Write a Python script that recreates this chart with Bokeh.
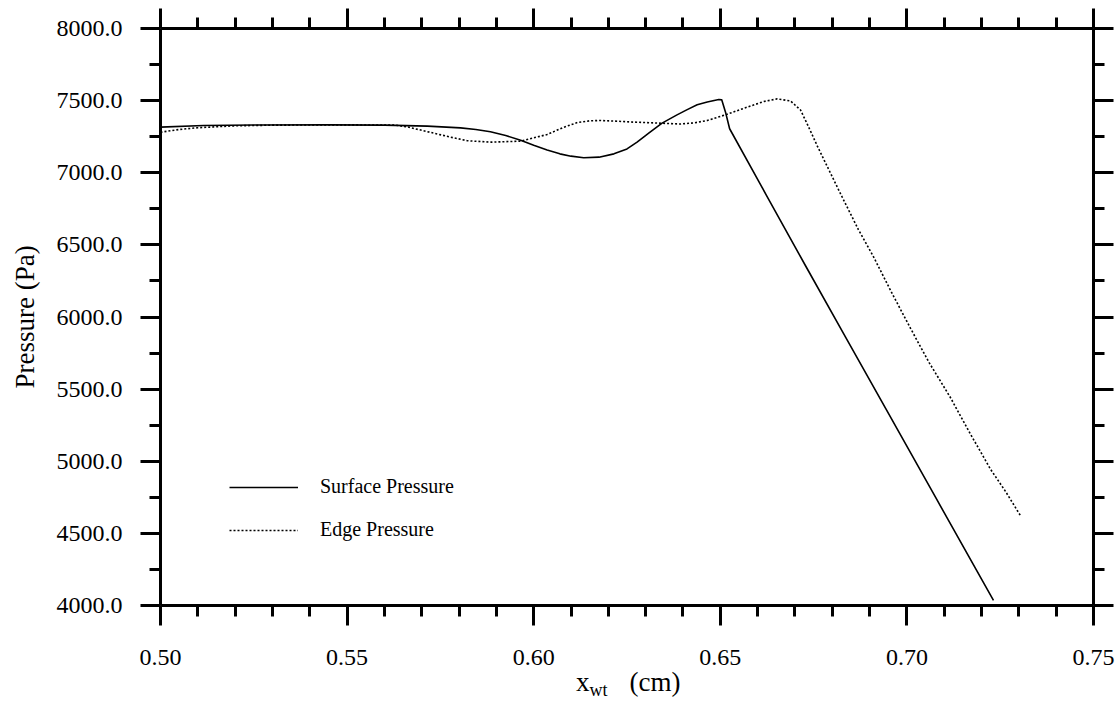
from bokeh.plotting import figure
from bokeh.models import (LinearAxis, FixedTicker, Legend, LegendItem, Div,
                          CustomJSTickFormatter, NumeralTickFormatter,
                          ColumnDataSource)
from bokeh.layouts import column
from bokeh.embed import file_html
from bokeh.resources import INLINE

# ---- data ----
surface_x = [0.5000, 0.5116, 0.5250, 0.5447, 0.5600, 0.5715, 0.5804, 0.5845,
             0.5884, 0.5925, 0.5965, 0.6000, 0.6036, 0.6070, 0.6100, 0.6134,
             0.6175, 0.6215, 0.6250, 0.6277, 0.6310, 0.6344, 0.6384, 0.6410,
             0.6438, 0.6465, 0.6496, 0.6504, 0.6514, 0.6525, 0.6624, 0.6728,
             0.6836, 0.6943, 0.7077, 0.7232]
surface_p = [7316, 7328, 7331, 7332, 7330, 7323, 7311, 7300,
             7284, 7258, 7225, 7190, 7157, 7131, 7115, 7104,
             7108, 7131, 7165, 7212, 7278, 7344, 7401, 7436,
             7471, 7490, 7508, 7505, 7420, 7305, 6842, 6357,
             5858, 5366, 4749, 4035]

edge_x = [0.5000, 0.5050, 0.5100, 0.5196, 0.5300, 0.5500, 0.5630, 0.5661,
          0.5715, 0.5777, 0.5822, 0.5884, 0.5965, 0.6036, 0.6080, 0.6117,
          0.6150, 0.6179, 0.6220, 0.6259, 0.6300, 0.6344, 0.6393, 0.6430,
          0.6465, 0.6518, 0.6572, 0.6617, 0.6652, 0.6688, 0.6715, 0.6738,
          0.6760, 0.6822, 0.6870, 0.6911, 0.6960, 0.7010, 0.7060, 0.7117,
          0.7170, 0.7224, 0.7265, 0.7304]
edge_p = [7281, 7300, 7312, 7325, 7330, 7332, 7330, 7318,
          7285, 7247, 7222, 7212, 7219, 7265, 7315, 7348,
          7360, 7362, 7358, 7352, 7348, 7343, 7338, 7346,
          7362, 7405, 7455, 7494, 7512, 7498, 7435, 7310,
          7185, 6855, 6606, 6415, 6165, 5920, 5682, 5440,
          5190, 4945, 4788, 4624]

series_labels = ["Surface Pressure", "Edge Pressure"]
x_title_main, x_title_sub, x_title_unit = "x", "wt", "(cm)"
y_title = "Pressure (Pa)"

x_major = [0.50, 0.55, 0.60, 0.65, 0.70, 0.75]
x_minor = [0.51, 0.52, 0.53, 0.54, 0.56, 0.57, 0.58, 0.59, 0.61, 0.62, 0.63,
           0.64, 0.66, 0.67, 0.68, 0.69, 0.71, 0.72, 0.73, 0.74]
y_major = [4000, 4500, 5000, 5500, 6000, 6500, 7000, 7500, 8000]
y_minor = [4250, 4750, 5250, 5750, 6250, 6750, 7250, 7750]

FONT = "Liberation Serif"

p = figure(frame_width=933, frame_height=577, x_range=(0.5, 0.75),
           y_range=(4000, 8000), output_backend="svg", toolbar_location=None,
           min_border_left=160, min_border_top=28, min_border_right=24,
           min_border_bottom=64)
p.outline_line_color = None
p.xgrid.visible = False
p.ygrid.visible = False
p.background_fill_color = "white"
p.border_fill_color = "white"

xt = FixedTicker(ticks=x_major, minor_ticks=x_minor)
yt = FixedTicker(ticks=y_major, minor_ticks=y_minor)

top = LinearAxis(ticker=xt, formatter=CustomJSTickFormatter(code="return ''"))
right = LinearAxis(ticker=yt, formatter=CustomJSTickFormatter(code="return ''"))
p.add_layout(top, "above")
p.add_layout(right, "right")

p.below[0].ticker = xt
p.left[0].ticker = yt
p.below[0].formatter = NumeralTickFormatter(format="0.00")
p.left[0].formatter = NumeralTickFormatter(format="0.0")

for ax in [p.below[0], p.left[0], top, right]:
    ax.axis_line_width = 3
    ax.axis_line_color = "black"
    ax.major_tick_line_width = 3
    ax.minor_tick_line_width = 3
    ax.major_tick_out = 20
    ax.major_tick_in = 0
    ax.minor_tick_out = 11
    ax.minor_tick_in = 0
    ax.major_label_text_font = FONT
    ax.major_label_text_font_size = "24px"
    ax.major_label_text_color = "black"

p.below[0].major_label_standoff = 24
p.left[0].major_label_standoff = 18
for ax in [top, right]:
    ax.major_label_text_font_size = "0px"
    ax.major_label_standoff = 0

p.left[0].axis_label = y_title
p.left[0].axis_label_text_font = FONT
p.left[0].axis_label_text_font_size = "27px"
p.left[0].axis_label_text_font_style = "normal"
p.left[0].axis_label_text_color = "black"
p.left[0].axis_label_standoff = 14

src_s = ColumnDataSource(dict(x=surface_x, y=surface_p))
src_e = ColumnDataSource(dict(x=edge_x, y=edge_p))
r1 = p.line("x", "y", source=src_s, line_color="black", line_width=1.6,
            line_join="round")
r2 = p.line("x", "y", source=src_e, line_color="black", line_width=1.6,
            line_dash="2 2", line_join="round")

legend = Legend(items=[LegendItem(label=series_labels[0], renderers=[r1]),
                       LegendItem(label=series_labels[1], renderers=[r2])],
                location=(69, 64), padding=0, margin=0, spacing=20,
                glyph_width=69, glyph_height=20, label_height=20,
                label_standoff=22, label_text_font=FONT,
                label_text_font_size="20px", label_text_color="black",
                border_line_alpha=0, background_fill_alpha=0)
p.add_layout(legend)

title_html = (
    '<span style="font-family:\'Liberation Serif\'; font-size:27px; '
    'line-height:27px; color:black; white-space:nowrap">'
    + x_title_main
    + '<sub style="font-size:18px; vertical-align:-5px">' + x_title_sub + '</sub>'
    + '<span style="margin-left:22px">' + x_title_unit + '</span></span>'
)
xdiv = Div(text=title_html, width=200, height=30, margin=(0, 0, 0, 576))

layout = column(p, xdiv, spacing=0)
open("out.html", "w").write(file_html(layout, INLINE))
